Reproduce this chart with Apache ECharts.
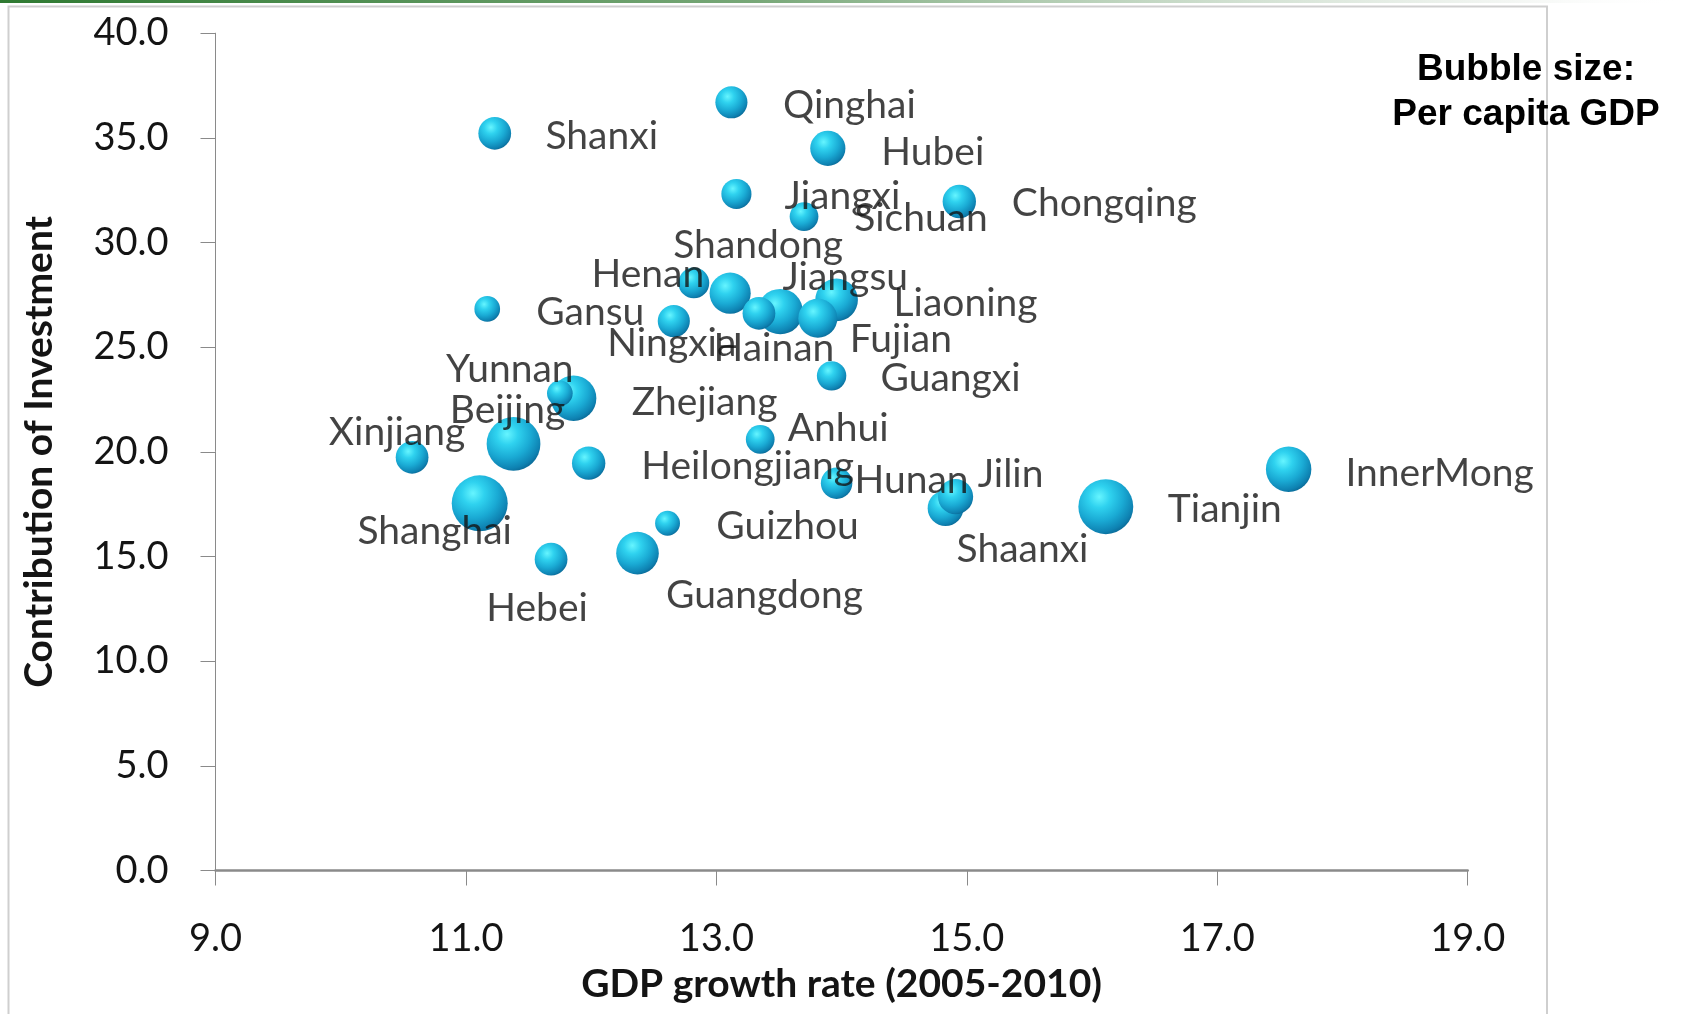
<!DOCTYPE html>
<html>
<head>
<meta charset="utf-8">
<title>Contribution of Investment vs GDP growth by province</title>
<script src="https://cdn.jsdelivr.net/npm/echarts@6/dist/echarts.min.js"></script>
<style>
  html, body { margin: 0; padding: 0; background: #ffffff; }
  #chart { width: 1681px; height: 1014px; }
</style>
</head>
<body>
<div id="chart"></div>
<script>
// Provinces, average GDP growth 2005-2010 (%), contribution of investment (%),
// and per capita GDP (thousand yuan) which sets the bubble area.
const provinces = [
  'Qinghai', 'Shanxi', 'Hubei', 'Jiangxi', 'Chongqing', 'Sichuan',
  'Shandong', 'Henan', 'Jiangsu', 'Liaoning', 'Fujian', 'Hainan',
  'Ningxia', 'Gansu', 'Guangxi', 'Yunnan', 'Zhejiang', 'Beijing',
  'Anhui', 'Xinjiang', 'Heilongjiang', 'Hunan', 'Jilin', 'Shanghai',
  'Guizhou', 'Shaanxi', 'Tianjin', 'InnerMong', 'Hebei', 'Guangdong'
];
const growthRate = [
  13.12, 11.23, 13.89, 13.16, 14.94, 13.70,
  13.11, 12.82, 13.51, 13.96, 13.81, 13.34,
  12.66, 11.17, 13.92, 11.75, 11.86, 11.38,
  13.35, 10.57, 11.98, 13.96, 14.91, 11.11,
  12.61, 14.83, 16.11, 17.57, 11.68, 12.37
];
const investmentShare = [
  36.70, 35.22, 34.50, 32.32, 31.96, 31.24,
  27.58, 28.07, 26.70, 27.26, 26.38, 26.62,
  26.25, 26.83, 23.63, 22.80, 22.56, 20.38,
  20.60, 19.74, 19.46, 18.50, 17.86, 17.54,
  16.59, 17.31, 17.38, 19.17, 14.87, 15.16
];
const perCapitaGdp = [
  25, 26, 30, 22, 27, 20,
  41, 23, 50, 44, 37, 26,
  25, 16, 21, 16, 50, 70,
  20, 26, 27, 24, 30, 76,
  15, 31, 73, 50, 26, 44
];
const xTicks = { min: 9, max: 19, step: 2 };
const yTicks = { min: 0, max: 40, step: 5 };

// Where each province name sits relative to its bubble centre (px).
const labelOffsets = {
  Qinghai: [118, 3], Shanxi: [107, 3], Hubei: [105, 4], Jiangxi: [106, 2],
  Chongqing: [145, 2], Sichuan: [117, 2], Shandong: [28, -48], Henan: [-46, -9],
  Jiangsu: [65, -34], Liaoning: [129, 4], Fujian: [83, 21], Hainan: [15, 35],
  Ningxia: [-2, 22], Gansu: [103, 4], Guangxi: [119, 3], Yunnan: [-50, -24],
  Zhejiang: [131, 4], Beijing: [-6, -33], Anhui: [78, -11], Xinjiang: [-15, -25],
  Heilongjiang: [159, 3], Hunan: [75, -3], Jilin: [55, -22], Shanghai: [-45, 28],
  Guizhou: [120, 3], Shaanxi: [77, 41], Tianjin: [119, 3], InnerMong: [151, 4],
  Hebei: [-14, 49], Guangdong: [127, 42]
};

// Bubble diameter grows with the square root of per capita GDP (area-proportional).
const SIZE_K = 56 / Math.sqrt(76);
const bubbleSize = v => SIZE_K * Math.sqrt(v[2]);

// Larger bubbles are drawn first so the small ones stay visible on top.
const order = provinces.map((_, i) => i).sort((a, b) => perCapitaGdp[b] - perCapitaGdp[a]);
const points = order.map(i => ({
  name: provinces[i],
  value: [growthRate[i], investmentShare[i], perCapitaGdp[i]]
}));
const labelPoints = provinces.map((p, i) => ({
  name: p,
  value: [growthRate[i], investmentShare[i], perCapitaGdp[i]],
  label: { offset: labelOffsets[p] }
}));

// Glossy sphere shading: bright highlight upper-left, deep blue rim on the right.
const sphere = {
  type: 'radial', x: 0.38, y: 0.32, r: 0.8,
  colorStops: [
    { offset: 0, color: '#66f5ff' },
    { offset: 0.25, color: '#2fd2ef' },
    { offset: 0.55, color: '#1aaad4' },
    { offset: 0.8, color: '#0e82b2' },
    { offset: 1, color: '#07527b' }
  ]
};

const TEXT = '#141414';
const AXIS = '#8a8a8a';

const chart = echarts.init(document.getElementById('chart'), null, { renderer: 'canvas' });
chart.setOption({
  animation: false,
  backgroundColor: '#ffffff',
  grid: { left: 215.5, right: 213.3, top: 33.2, bottom: 143.5, containLabel: false },
  xAxis: {
    type: 'value',
    min: xTicks.min, max: xTicks.max, interval: xTicks.step,
    name: 'GDP growth rate (2005-2010)',
    nameLocation: 'middle',
    nameGap: 93,
    nameTextStyle: { fontFamily: 'Lato', fontWeight: 'bold', fontSize: 39, color: TEXT, lineHeight: 42 },
    axisLine: { show: true, lineStyle: { color: AXIS, width: 2.5 } },
    axisTick: { show: true, inside: false, length: 15, lineStyle: { color: AXIS, width: 1 } },
    axisLabel: {
      margin: 49, fontFamily: 'Lato', fontSize: 38, color: TEXT, lineHeight: 38,
      formatter: v => v.toFixed(1)
    },
    splitLine: { show: false }
  },
  yAxis: {
    type: 'value',
    min: yTicks.min, max: yTicks.max, interval: yTicks.step,
    name: 'Contribution of Investment',
    nameLocation: 'middle',
    nameGap: 155,
    nameTextStyle: { fontFamily: 'Lato', fontWeight: 'bold', fontSize: 39, color: TEXT, lineHeight: 42 },
    axisLine: { show: true, lineStyle: { color: AXIS, width: 1 } },
    axisTick: { show: true, inside: false, length: 15, lineStyle: { color: AXIS, width: 1 } },
    axisLabel: {
      margin: 47, fontFamily: 'Lato', fontSize: 38, color: TEXT,
      formatter: v => v.toFixed(1)
    },
    splitLine: { show: false }
  },
  series: [
    {
      type: 'scatter',
      data: points,
      symbol: 'circle',
      symbolSize: bubbleSize,
      itemStyle: { color: sphere, opacity: 1 },
      emphasis: { disabled: true },
      z: 2
    },
    {
      type: 'scatter',
      data: labelPoints,
      symbolSize: 1,
      silent: true,
      itemStyle: { color: 'rgba(0,0,0,0)' },
      label: {
        show: true,
        position: 'inside',
        formatter: p => p.name,
        fontFamily: 'Lato',
        fontSize: 39,
        color: TEXT
      },
      emphasis: { disabled: true },
      z: 5
    }
  ],
  graphic: [
    {
      type: 'rect',
      shape: { x: 0, y: 0, width: 1681, height: 3 },
      style: {
        fill: {
          type: 'linear', x: 0, y: 0, x2: 1, y2: 0,
          colorStops: [
            { offset: 0, color: '#2f7a32' },
            { offset: 0.45, color: '#78a878' },
            { offset: 0.9, color: 'rgba(235,240,235,0.6)' },
            { offset: 1, color: 'rgba(255,255,255,0)' }
          ]
        }
      },
      silent: true,
      z: 0
    },
    {
      type: 'rect',
      shape: { x: 8.5, y: 6.5, width: 1538.5, height: 1030 },
      style: { fill: 'none', stroke: '#cfcfcf', lineWidth: 2 },
      silent: true,
      z: 0
    },
    {
      type: 'text',
      x: 1526, y: 70,
      style: {
        text: 'Bubble size:',
        font: 'bold 37px "Liberation Sans", Arial, sans-serif',
        fill: '#000000', align: 'center', verticalAlign: 'middle'
      },
      silent: true,
      z: 10
    },
    {
      type: 'text',
      x: 1526, y: 115,
      style: {
        text: 'Per capita GDP',
        font: 'bold 37px "Liberation Sans", Arial, sans-serif',
        fill: '#000000', align: 'center', verticalAlign: 'middle'
      },
      silent: true,
      z: 10
    }
  ]
});
</script>
</body>
</html>
